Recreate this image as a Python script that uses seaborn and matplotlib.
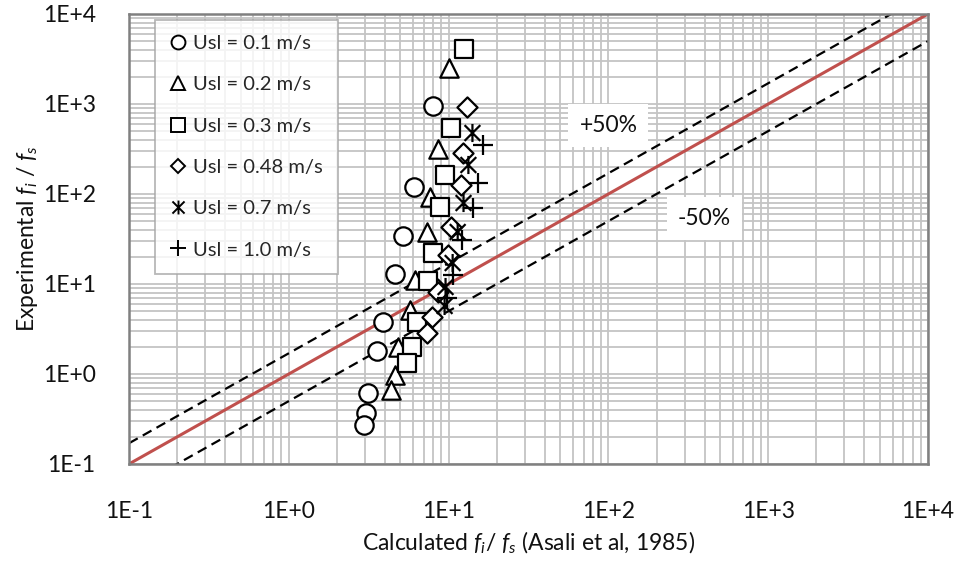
import numpy as np
import pandas as pd
import matplotlib
matplotlib.use("Agg")
import matplotlib.pyplot as plt
import seaborn as sns
from matplotlib.path import Path
from matplotlib.lines import Line2D
from matplotlib.ticker import LogLocator, FuncFormatter, NullFormatter

# ---------------- data ----------------
usl01_x = [7.94, 6.04, 5.16, 4.60, 3.87, 3.55, 3.12, 3.03, 2.94]
usl01_y = [950, 119.6, 34.1, 12.9, 3.78, 1.80, 0.615, 0.369, 0.271]

usl02_x = [10.1, 8.54, 7.60, 7.29, 6.13, 5.70, 4.80, 4.60, 4.34]
usl02_y = [2512, 316, 92.6, 37.8, 11.1, 5.14, 2.0, 0.975, 0.664]

usl03_x = [12.4, 10.4, 9.44, 8.79, 7.94, 7.39, 6.31, 5.87, 5.46]
usl03_y = [4083, 541, 162.6, 71.7, 22.1, 10.8, 3.78, 2.0, 1.33]

usl048_x = [12.96, 12.24, 11.9, 10.3, 9.86, 8.54, 7.83, 7.29]
usl048_y = [926, 285.6, 126, 43.0, 21.0, 8.15, 4.30, 2.85]

usl07_x = [14.1, 13.3, 12.4, 11.4, 10.6, 9.57, 9.44]
usl07_y = [476, 210, 79.4, 37.8, 17.1, 9.26, 5.70]

usl10_x = [16.5, 15.2, 14.3, 12.2, 10.6, 9.72]
usl10_y = [350, 132, 69.9, 30.8, 12.6, 6.99]

series_labels = ["Usl = 0.1 m/s", "Usl = 0.2 m/s", "Usl = 0.3 m/s",
                 "Usl = 0.48 m/s", "Usl = 0.7 m/s", "Usl = 1.0 m/s"]

line_x = [0.1, 10000]
upper_factor = 1.7
lower_factor = 0.5
band_labels = ["+50%", "-50%"]
band_label_x = [100, 398]
band_label_y = [584, 54]

tick_values = [0.1, 1, 10, 100, 1000, 10000]

# ---------------- styling ----------------
sns.set_theme(style="white")
plt.rcParams["font.family"] = ["Lato", "DejaVu Sans"]
plt.rcParams["mathtext.fontset"] = "custom"
plt.rcParams["mathtext.it"] = "Lato:italic"
plt.rcParams["mathtext.rm"] = "Lato"

fig = plt.figure(figsize=(9.56, 5.61), dpi=100)
ax = fig.add_axes([129 / 956, 97 / 561, 799 / 956, 450 / 561])
ax.set_xscale("log")
ax.set_yscale("log")
ax.set_xlim(0.1, 10000)
ax.set_ylim(0.1, 10000)

# grid
for axis in (ax.xaxis, ax.yaxis):
    axis.set_major_locator(LogLocator(base=10, numticks=10))
    axis.set_minor_locator(LogLocator(base=10, subs=np.arange(2, 10), numticks=20))
    axis.set_minor_formatter(NullFormatter())
    axis.set_major_formatter(FuncFormatter(lambda v, p: f"1E{int(round(np.log10(v))):+d}"))
ax.set_xticks(tick_values)
ax.set_yticks(tick_values)
ax.grid(which="both", color="#c4c4c4", lw=1.3, zorder=0)
ax.set_axisbelow(True)
ax.tick_params(which="both", length=0)
ax.tick_params(axis="x", pad=27, labelsize=16.5, labelcolor="#111111")
ax.tick_params(axis="y", pad=24, labelsize=16.5, labelcolor="#111111")
for sp in ax.spines.values():
    sp.set_color("#808080")
    sp.set_linewidth(1.8)

# reference lines
lx = np.array(line_x, dtype=float)
sns.lineplot(x=lx, y=lx, color="#c0504d", lw=2.2, ax=ax, zorder=2)
sns.lineplot(x=lx, y=lx * upper_factor, color="black", lw=1.6, ax=ax, zorder=2,
             dashes=False).lines[-1].set_dashes((4.5, 2.6))
sns.lineplot(x=lx, y=lx * lower_factor, color="black", lw=1.6, ax=ax, zorder=2,
             dashes=False).lines[-1].set_dashes((4.5, 2.6))

for t, x, y in zip(band_labels, band_label_x, band_label_y):
    ax.text(x, y, t, ha="center", va="center", fontsize=16.5, color="#111111", zorder=4,
            bbox=dict(facecolor="white", edgecolor="none", pad=8))

# markers
asterisk = Path([(-1, -1), (1, 1), (-1, 1), (1, -1), (0, -1.15), (0, 1.15)],
                [Path.MOVETO, Path.LINETO, Path.MOVETO, Path.LINETO, Path.MOVETO, Path.LINETO])

all_x = [usl01_x, usl02_x, usl03_x, usl048_x, usl07_x, usl10_x]
all_y = [usl01_y, usl02_y, usl03_y, usl048_y, usl07_y, usl10_y]
markers = ["o", "^", "s", "D", asterisk, "+"]
sizes = [175, 175, 165, 105, 170, 190]
kind = ["filled", "filled", "filled", "filled", "path", "line"]

for xs, ys, lab, m, s, k in zip(all_x, all_y, series_labels, markers, sizes, kind):
    df = pd.DataFrame({"x": xs, "y": ys})
    if k == "filled":
        sns.scatterplot(data=df, x="x", y="y", marker=m, s=s, color="white",
                        edgecolor="black", linewidth=1.6, ax=ax, zorder=3, legend=False)
    elif k == "path":
        sns.scatterplot(data=df, x="x", y="y", marker=m, s=s, facecolor="none",
                        edgecolor="black", linewidth=1.6, ax=ax, zorder=3, legend=False)
    else:
        sns.scatterplot(data=df, x="x", y="y", marker=m, s=s, color="black",
                        linewidth=1.6, ax=ax, zorder=3, legend=False)

ax.set_xlim(0.1, 10000)
ax.set_ylim(0.1, 10000)

# legend
handles = []
leg_ms = [10, 10, 10, 7, 10, 11]
for m, k, ms in zip(markers, kind, leg_ms):
    if k == "filled":
        h = Line2D([], [], ls="none", marker=m, markersize=ms, markerfacecolor="white",
                   markeredgecolor="black", markeredgewidth=1.4)
    else:
        h = Line2D([], [], ls="none", marker=m, markersize=ms, color="black",
                   markerfacecolor="none", markeredgecolor="black", markeredgewidth=1.4)
    handles.append(h)
leg = ax.legend(handles, series_labels, loc="upper left",
                bbox_to_anchor=((155 - 129) / 799, (464 - 20) / 450),
                borderaxespad=0, frameon=True, fancybox=False, fontsize=14.5,
                labelspacing=1.2, handlelength=0.8, handletextpad=0.35,
                borderpad=0.75)
leg.get_frame().set_edgecolor("#a6a6a6")
leg.get_frame().set_linewidth(1.3)
leg.set_zorder(5)

ax.set_xlabel("Calculated $f_i$/ $f_s$ (Asali et al, 1985)", fontsize=16.5, color="#111111")
ax.set_ylabel("Experimental $f_i$ / $f_s$", fontsize=16.5, color="#111111")
ax.xaxis.set_label_coords(0.5, (464 - 530) / 450)
ax.yaxis.set_label_coords((40 - 129) / 799, 0.5)

fig.savefig("out.png", dpi=100)
